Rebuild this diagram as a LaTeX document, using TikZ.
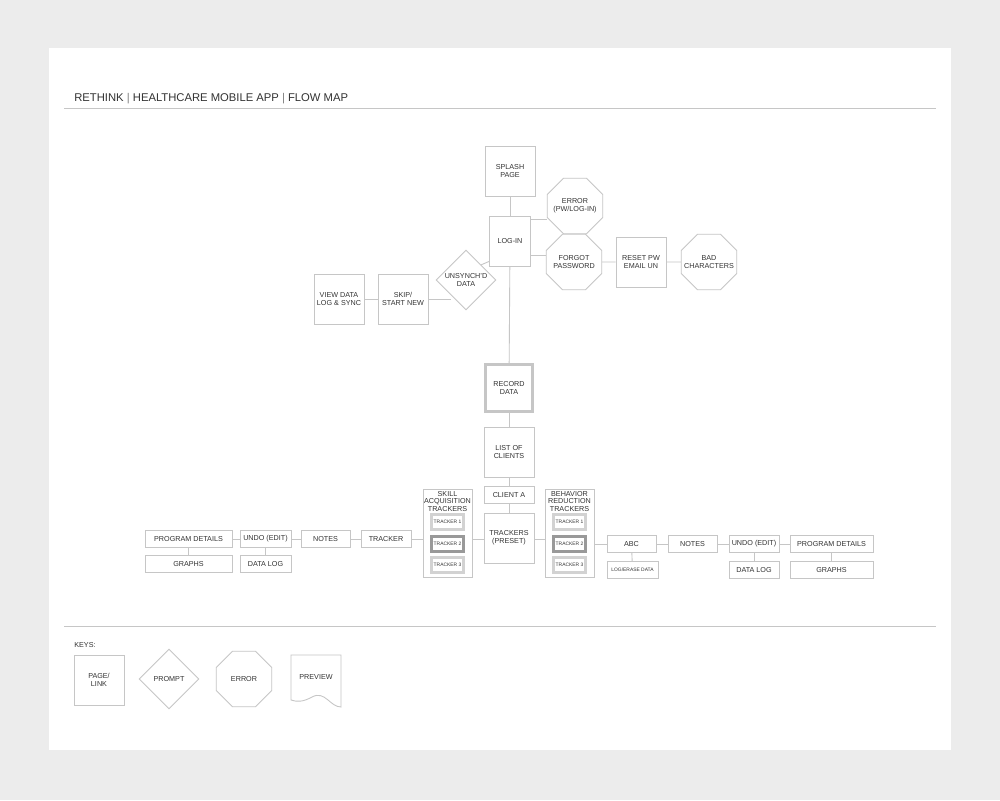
\documentclass[tikz,border=0pt]{standalone}
\usepackage{fontspec}
\setmainfont{Liberation Sans}
\usetikzlibrary{shapes.geometric}
\definecolor{frame}{HTML}{c6c6c6}
\definecolor{ink}{HTML}{333333}

\tikzset{
  base/.style={draw=frame, line width=0.5pt, fill=white, text=ink, inner sep=0pt, align=center,
    font=\fontsize{4.1}{4.5}\selectfont},
  pagebox/.style={base, rectangle, minimum width=10mm, minimum height=10mm},
  barbox/.style={base, rectangle, minimum height=3.3mm},
  promptbox/.style={base, diamond, minimum width=12mm, minimum height=12mm},
  errorbox/.style={base, regular polygon, regular polygon sides=8, minimum size=12mm, inner sep=-4pt},
  trackbox/.style={base, rectangle, draw=gray!35, line width=1.7pt, minimum width=6.4mm,
    minimum height=2.9mm, font=\fontsize{2.8}{3.2}\selectfont},
  link/.style={draw=frame, line width=0.5pt}
}

\begin{document}
\begin{tikzpicture}[x=0.2mm, y=-0.2mm]

\fill[gray!15] (0,0) rectangle (1000,800);
\fill[white] (49,48) rectangle (951,750);

\node[anchor=base west, inner sep=0pt, text=ink, font=\fontsize{6.4}{7}\selectfont] (title) at (74,101)
  {RETHINK {\color{gray}|} HEALTHCARE MOBILE APP {\color{gray}|} FLOW MAP};
\draw[link] (64,108) -- (936,108);
\draw[link] (64,626) -- (936,626);

% log-in area
\node[pagebox] (splash) at (510,171) {SPLASH\\PAGE};
\node[pagebox, minimum width=8.2mm] (login) at (510,241) {LOG-IN};
\node[errorbox] (error) at (575,206) {ERROR\\(PW/LOG-IN)};
\node[errorbox] (forgot) at (574,262) {FORGOT\\PASSWORD};
\node[pagebox] (reset) at (641,262) {RESET PW\\EMAIL UN};
\node[errorbox] (bad) at (709,262) {BAD\\CHARACTERS};
\node[promptbox] (unsynch) at (466,280) {UNSYNCH'D\\DATA};
\node[pagebox] (skip) at (403,299) {SKIP/\\START NEW};
\node[pagebox] (view) at (339,299) {VIEW DATA\\LOG \& SYNC};

% record
\node[pagebox, line width=1.6pt, draw=gray!45, minimum width=9.4mm, minimum height=9.4mm] (record) at (509,388) {RECORD\\DATA};
\node[pagebox] (clients) at (509,452) {LIST OF\\CLIENTS};
\node[barbox, minimum width=10mm] (clienta) at (509,495) {CLIENT A};
\node[pagebox] (preset) at (509,538) {TRACKERS\\(PRESET)};

% tracker groups
\node[base, minimum width=9.8mm, minimum height=17.6mm] (skill) at (447.5,533) {};
\node[text=ink, align=center, inner sep=0pt, font=\fontsize{4.1}{4.3}\selectfont, anchor=north] (skilltitle) at (447.5,491) {SKILL\\ACQUISITION\\TRACKERS};
\node[trackbox] (sk1) at (447.5,522) {TRACKER 1};
\node[trackbox, draw=gray!80] (sk2) at (447.5,544) {TRACKER 2};
\node[trackbox] (sk3) at (447.5,565) {TRACKER 3};

\node[base, minimum width=9.8mm, minimum height=17.6mm] (behav) at (569.5,533) {};
\node[text=ink, align=center, inner sep=0pt, font=\fontsize{4.1}{4.3}\selectfont, anchor=north] (behavtitle) at (569.5,491) {BEHAVIOR\\REDUCTION\\TRACKERS};
\node[trackbox] (br1) at (569.5,522) {TRACKER 1};
\node[trackbox, draw=gray!80] (br2) at (569.5,544) {TRACKER 2};
\node[trackbox] (br3) at (569.5,565) {TRACKER 3};

% left chain
\node[barbox, minimum width=10mm] (ltrack) at (386,539) {TRACKER};
\node[barbox, minimum width=9.8mm] (lnotes) at (325.5,539) {NOTES};
\node[barbox, minimum width=10.2mm] (lundo) at (265.5,539) {UNDO (EDIT)};
\node[barbox, minimum width=17.4mm] (lprog) at (188.5,539) {PROGRAM DETAILS};
\node[barbox, minimum width=17.4mm] (lgraph) at (188.5,564) {GRAPHS};
\node[barbox, minimum width=10.2mm] (llog) at (265.5,564) {DATA LOG};

% right chain
\node[barbox, minimum width=9.8mm] (abc) at (631.5,544) {ABC};
\node[barbox, minimum width=10.2mm, font=\fontsize{2.8}{3.2}\selectfont] (erase) at (632.5,570) {LOG/ERASE DATA};
\node[barbox, minimum width=9.8mm] (rnotes) at (692.5,544) {NOTES};
\node[barbox, minimum width=10mm] (rundo) at (754,544) {UNDO (EDIT)};
\node[barbox, minimum width=10mm] (rlog) at (754,570) {DATA LOG};
\node[barbox, minimum width=16.6mm] (rprog) at (831.5,544) {PROGRAM DETAILS};
\node[barbox, minimum width=16.6mm] (rgraph) at (831.5,570) {GRAPHS};

% connectors
\draw[link] (splash) -- (login);
\draw[link] ([yshift=-0.8mm]login.north east) -- ([yshift=-0.8mm]login.north east -| error.west);
\draw[link] ([yshift=2.2mm]login.south east) -- ([yshift=2.2mm]login.south east -| forgot.west);
\draw[link] (forgot) -- (reset);
\draw[link] (reset) -- (bad);
\draw[link] ([yshift=1mm]login.south west) -- (unsynch.north east);
\draw[link] (skip.east) -- (skip.east -| unsynch.south west);
\draw[link] (skip) -- (view);
\draw[link] (login) -- (record);
\draw[link] (record) -- (clients);
\draw[link] (clients) -- (clienta);
\draw[link] (clienta) -- (preset);
\draw[link] (preset.west |- ltrack) -- (skill.east |- ltrack);
\draw[link] (skill.west |- ltrack) -- (ltrack);
\draw[link] (ltrack) -- (lnotes);
\draw[link] (lnotes) -- (lundo);
\draw[link] (lundo) -- (lprog);
\draw[link] (lprog) -- (lgraph);
\draw[link] (lundo) -- (llog);
\draw[link] (preset.east |- ltrack) -- (behav.west |- ltrack);
\draw[link] (behav.east |- abc) -- (abc);
\draw[link] (abc) -- (erase);
\draw[link] (abc) -- (rnotes);
\draw[link] (rnotes) -- (rundo);
\draw[link] (rundo) -- (rprog);
\draw[link] (rundo) -- (rlog);
\draw[link] (rprog) -- (rgraph);

% keys
\node[anchor=base west, inner sep=0pt, text=ink, font=\fontsize{4.1}{4.5}\selectfont] (keys) at (74,647) {KEYS:};
\node[pagebox] (kpage) at (99,680) {PAGE/\\LINK};
\node[promptbox] (kprompt) at (169,679) {PROMPT};
\node[errorbox] (kerror) at (244,679) {ERROR};
\draw[link] (291,655) -- (341,655) -- (341,707)
  .. controls (330,707) and (325,690) .. (312,697)
  .. controls (303,702) and (297,702) .. (291,700) -- cycle;
\node[text=ink, font=\fontsize{4.1}{4.5}\selectfont] (kpreview) at (316,677) {PREVIEW};

\end{tikzpicture}
\end{document}
